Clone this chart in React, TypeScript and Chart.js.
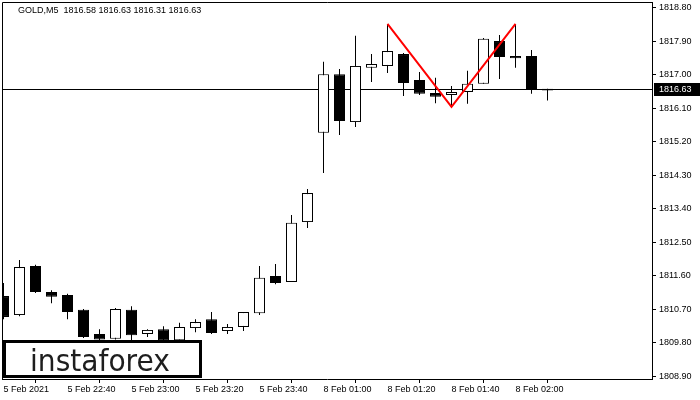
import React, { useEffect, useRef } from "react";
import { Chart, registerables } from "chart.js";
Chart.register(...registerables);

const symbol = "GOLD,M5";
const times = [
  "5 Feb 22:20", "5 Feb 22:25", "5 Feb 22:30", "5 Feb 22:35", "5 Feb 22:40", "5 Feb 22:45", "5 Feb 22:50", "5 Feb 22:55",
  "5 Feb 23:00", "5 Feb 23:05", "5 Feb 23:10", "5 Feb 23:15", "5 Feb 23:20", "5 Feb 23:25", "5 Feb 23:30", "5 Feb 23:35",
  "5 Feb 23:40", "5 Feb 23:45", "5 Feb 23:50", "5 Feb 23:55", "8 Feb 01:00", "8 Feb 01:05", "8 Feb 01:10", "8 Feb 01:15",
  "8 Feb 01:20", "8 Feb 01:25", "8 Feb 01:30", "8 Feb 01:35", "8 Feb 01:40", "8 Feb 01:45", "8 Feb 01:50", "8 Feb 01:55",
  "8 Feb 02:00", "8 Feb 02:05", "8 Feb 02:10",
];
const opens = [1811.05, 1810.54, 1811.86, 1811.16, 1811.08, 1810.68, 1810.03, 1809.90, 1810.68, 1810.03, 1810.16, 1809.86, 1810.19, 1810.43, 1810.11, 1810.22, 1810.59, 1811.59, 1811.43, 1813.04, 1815.44, 1817.02, 1815.73, 1817.19, 1817.24, 1817.56, 1816.86, 1816.51, 1816.46, 1816.54, 1816.76, 1817.91, 1817.51, 1817.51, 1816.58];
const highs = [1811.40, 1812.02, 1811.89, 1811.21, 1811.11, 1810.70, 1810.16, 1810.73, 1810.78, 1810.16, 1810.24, 1810.33, 1810.43, 1810.62, 1810.30, 1810.62, 1811.86, 1811.91, 1813.23, 1813.93, 1817.35, 1817.16, 1818.05, 1817.56, 1818.37, 1817.59, 1817.08, 1816.92, 1816.70, 1817.11, 1817.99, 1818.07, 1818.37, 1817.67, 1816.63];
const lows = [1810.43, 1810.51, 1811.13, 1810.86, 1810.43, 1809.92, 1809.80, 1809.88, 1809.87, 1809.95, 1809.80, 1809.84, 1810.08, 1810.03, 1810.03, 1810.11, 1810.54, 1811.37, 1811.43, 1812.88, 1814.36, 1815.38, 1815.60, 1816.81, 1817.05, 1816.43, 1816.46, 1816.24, 1816.16, 1816.22, 1816.76, 1816.89, 1817.19, 1816.49, 1816.31];
const closes = [1810.49, 1811.83, 1811.16, 1811.03, 1810.62, 1809.95, 1809.88, 1810.70, 1810.00, 1810.14, 1809.85, 1810.22, 1810.35, 1810.06, 1810.22, 1810.62, 1811.54, 1811.40, 1813.02, 1813.82, 1817.02, 1815.76, 1817.24, 1817.29, 1817.64, 1816.78, 1816.49, 1816.41, 1816.54, 1816.76, 1817.97, 1817.48, 1817.45, 1816.59, 1816.63];

const patternIdx = [24, 28, 32];
const patternPrices = [1818.37, 1816.14, 1818.37];

const xTickIdx = [0, 4, 8, 12, 16, 20, 24, 28, 32];
const xTickLabels = ["5 Feb 2021", "5 Feb 22:40", "5 Feb 23:00", "5 Feb 23:20", "5 Feb 23:40", "8 Feb 01:00", "8 Feb 01:20", "8 Feb 01:40", "8 Feb 02:00"];
const yTicks = [1808.9, 1809.8, 1810.7, 1811.6, 1812.5, 1813.4, 1814.3, 1815.2, 1816.1, 1817.0, 1817.9, 1818.8];

const Y_MIN = 1808.82;
const Y_MAX = 1818.96;
const X_MIN = -0.09375;
const X_MAX = 40.53125;
const FONT = "Liberation Sans";

export default function App() {
  const ref = useRef<HTMLCanvasElement>(null);
  useEffect(() => {
    const canvas = ref.current;
    if (!canvas) return;
    const idx = closes.map((_, i) => i);
    const bodies = idx.map((i) => ({ x: i, y: [opens[i], closes[i]] }));
    const wicks = idx.map((i) => ({ x: i, y: [lows[i], highs[i]] }));
    const bodyColors = idx.map((i) => (closes[i] >= opens[i] ? "#ffffff" : "#000000"));
    const last = closes.length - 1;

    const overlay = {
      id: "overlay",
      beforeDatasetsDraw(chart: any) {
        const { ctx, chartArea } = chart;
        const ys = chart.scales.y;
        ctx.save();
        ctx.strokeStyle = "#000";
        ctx.lineWidth = 1;
        ctx.beginPath();
        ctx.moveTo(chartArea.left + 0.5, chartArea.bottom);
        ctx.lineTo(chartArea.left + 0.5, chartArea.top + 0.5);
        ctx.lineTo(chartArea.right, chartArea.top + 0.5);
        ctx.stroke();
        const py = Math.round(ys.getPixelForValue(closes[last])) + 0.5;
        ctx.beginPath();
        ctx.moveTo(chartArea.left, py);
        ctx.lineTo(chartArea.right, py);
        ctx.stroke();
        ctx.restore();
      },
      afterDraw(chart: any) {
        const { ctx, chartArea } = chart;
        const ys = chart.scales.y;
        ctx.save();
        ctx.fillStyle = "#000";
        ctx.font = `9px "${FONT}"`;
        ctx.textBaseline = "middle";
        ctx.textAlign = "left";
        const f = (v: number) => v.toFixed(2);
        ctx.fillText(`${symbol}  ${f(opens[last])} ${f(highs[last])} ${f(lows[last])} ${f(closes[last])}`, 18, 11);
        const py = Math.round(ys.getPixelForValue(closes[last]));
        ctx.fillStyle = "#000";
        ctx.fillRect(chartArea.right + 2, py - 6, 700 - chartArea.right - 2, 13);
        ctx.fillStyle = "#fff";
        ctx.fillText(f(closes[last]), chartArea.right + 7, py + 1);
        ctx.fillStyle = "#fff";
        ctx.fillRect(3, 340, 199, 38);
        ctx.strokeStyle = "#000";
        ctx.lineWidth = 3;
        ctx.strokeRect(4.5, 341.5, 196, 35);
        ctx.fillStyle = "#1e1e1e";
        ctx.font = `31px "DejaVu Sans"`;
        ctx.textBaseline = "alphabetic";
        ctx.fillText("instaforex", 30, 371, 140);
        ctx.restore();
      },
    };

    const tickFont = { family: FONT, size: 9 };
    const chart = new Chart(canvas, {
      type: "bar",
      data: {
        labels: times,
        datasets: [
          {
            type: "line",
            label: "pattern",
            data: patternIdx.map((x, k) => ({ x, y: patternPrices[k] })),
            borderColor: "#ff0000",
            borderWidth: 2,
            pointRadius: 0,
            tension: 0,
            order: 0,
          } as any,
          {
            label: "body",
            data: bodies as any,
            backgroundColor: bodyColors,
            borderColor: "#000000",
            borderWidth: 1,
            borderSkipped: false,
            barThickness: 11,
            grouped: false,
            inflateAmount: 0,
            order: 1,
          } as any,
          {
            label: "wick",
            data: wicks as any,
            backgroundColor: "#000000",
            borderWidth: 0,
            barThickness: 1,
            grouped: false,
            inflateAmount: 0,
            order: 2,
          } as any,
        ],
      },
      options: {
        responsive: false,
        animation: false,
        events: [],
        layout: { padding: { left: 2, top: 2, right: 0, bottom: 0 } },
        plugins: { legend: { display: false }, tooltip: { enabled: false } },
        scales: {
          x: {
            type: "linear",
            min: X_MIN,
            max: X_MAX,
            offset: false,
            grid: { drawOnChartArea: false, drawTicks: true, tickLength: 4, tickColor: "#000" },
            border: { display: true, color: "#000", width: 1 },
            ticks: {
              autoSkip: false,
              maxRotation: 0,
              minRotation: 0,
              align: "start",
              padding: 1,
              color: "#000",
              font: tickFont,
              callback: (v: any) => {
                const k = xTickIdx.indexOf(Number(v));
                return k >= 0 ? xTickLabels[k] : "";
              },
            },
            afterBuildTicks: (s: any) => {
              s.ticks = xTickIdx.map((v) => ({ value: v }));
            },
            afterFit: (s: any) => {
              s.height = 21;
              s.paddingLeft = 0;
              s.paddingRight = 0;
            },
          },
          y: {
            type: "linear",
            position: "right",
            min: Y_MIN,
            max: Y_MAX,
            grid: { drawOnChartArea: false, drawTicks: true, tickLength: 4, tickColor: "#000" },
            border: { display: true, color: "#000", width: 1 },
            ticks: {
              padding: 3,
              color: "#000",
              font: tickFont,
              callback: (v: any) => Number(v).toFixed(2),
            },
            afterBuildTicks: (s: any) => {
              s.ticks = yTicks.map((v) => ({ value: v }));
            },
            afterFit: (s: any) => {
              s.width = 48;
              s.paddingTop = 0;
              s.paddingBottom = 0;
            },
          },
        },
      } as any,
      plugins: [overlay],
    });
    return () => chart.destroy();
  }, []);

  return (
    <div style={{ position: "fixed", left: 0, top: 0, width: 700, height: 400, background: "#fff" }}>
      <canvas ref={ref} width={700} height={400} style={{ display: "block", width: 700, height: 400 }} />
    </div>
  );
}
